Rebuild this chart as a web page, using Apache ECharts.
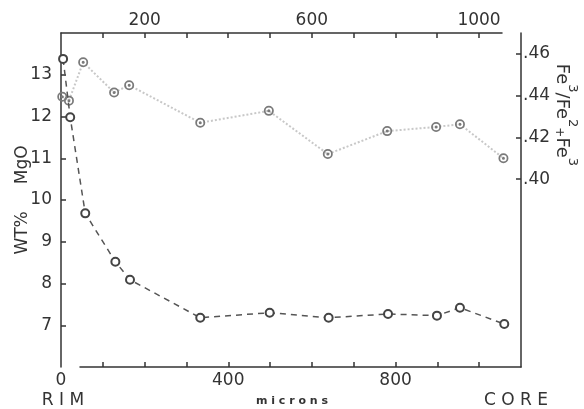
<!DOCTYPE html>
<html>
<head>
<meta charset="utf-8">
<script src="https://cdn.jsdelivr.net/npm/echarts@6/dist/echarts.min.js"></script>
<style>
  html, body { margin: 0; padding: 0; background: #fff; }
  #chart { width: 584px; height: 409px; }
</style>
</head>
<body>
<div id="chart"></div>
<script>
// MgO (wt%) profile, left axis
const mgoMicrons = [5, 22, 58, 130, 165, 333, 499, 640, 782, 899, 954, 1060]
const mgoValues = [13.38, 11.98, 9.68, 8.52, 8.09, 7.18, 7.30, 7.18, 7.27, 7.23, 7.42, 7.03]

// Fe3/(Fe2+Fe3) profile, right axis
const feMicrons = [3, 19, 53, 127, 163, 333, 497, 638, 780, 897, 954, 1058]
const feValues = [0.4395, 0.4376, 0.456, 0.4415, 0.445, 0.427, 0.4327, 0.412, 0.423, 0.425, 0.4263, 0.410]

const bottomTicks = [100, 200, 300, 400, 500, 600, 700, 800, 900, 1000]
const bottomLabels = [0, 400, 800]
const topLabels = [200, 600, 1000]
const mgoTicks = [7, 8, 9, 10, 11, 12, 13]
const feTicks = [0.40, 0.42, 0.44, 0.46]

const font = 'DejaVu Sans'
const ink = '#333'

const container = document.getElementById('chart')
const myChart = echarts.init(container)

// ring with a dot in the middle
const ringDot = 'path://M0,-10A10,10 0 1,1 0,10A10,10 0 1,1 0,-10Z' +
    'M0,-6.5A6.5,6.5 0 1,0 0,6.5A6.5,6.5 0 1,0 0,-6.5Z' +
    'M0,-3A3,3 0 1,1 0,3A3,3 0 1,1 0,-3Z'

const tickLabel = { color: ink, fontFamily: font, fontSize: 17, formatter: v => String(v) }
const axisInk = { color: ink, width: 1.5 }

const option = {
    backgroundColor: '#fff',
    animation: false,
    grid: [
        { left: 61, right: 63, top: 33, bottom: 42, outerBoundsMode: 'none', containLabel: false },   // plot
        { left: 61, width: 441, top: 33, height: 10, outerBoundsMode: 'none', containLabel: false },  // shorter top axis
        { left: 80, right: 63, bottom: 42, height: 10, outerBoundsMode: 'none', containLabel: false } // bottom axis line
    ],
    xAxis: [{
        type: 'value',
        gridIndex: 0,
        position: 'bottom',
        min: 0,
        max: 1100,
        splitLine: { show: false },
        axisLine: { show: false, onZero: false },
        axisTick: { show: true, inside: true, length: 5, customValues: bottomTicks, lineStyle: axisInk },
        axisLabel: Object.assign({}, tickLabel, { margin: 5, customValues: bottomLabels })
    }, {
        type: 'value',
        gridIndex: 1,
        position: 'top',
        min: 0,
        max: 1055,
        splitLine: { show: false },
        axisLine: { show: true, onZero: false, lineStyle: axisInk },
        axisTick: { show: true, inside: true, length: 5, customValues: bottomTicks, lineStyle: axisInk },
        axisLabel: Object.assign({}, tickLabel, { margin: 4, customValues: topLabels })
    }, {
        type: 'value',
        gridIndex: 2,
        position: 'bottom',
        min: 0,
        max: 1,
        splitLine: { show: false },
        axisLine: { show: true, onZero: false, lineStyle: axisInk },
        axisTick: { show: false },
        axisLabel: { show: false }
    }],
    yAxis: [{
        type: 'value',
        gridIndex: 0,
        position: 'left',
        min: 6,
        max: 14,
        name: 'WT%     MgO',
        nameLocation: 'middle',
        nameRotate: 90,
        nameGap: 30,
        nameMoveOverlap: false,
        nameTextStyle: { color: ink, fontFamily: font, fontSize: 17 },
        splitLine: { show: false },
        axisLine: { show: true, onZero: false, lineStyle: axisInk },
        axisTick: { show: true, inside: true, length: 5, customValues: mgoTicks, lineStyle: axisInk },
        axisLabel: Object.assign({}, tickLabel, { margin: 9, customValues: mgoTicks })
    }, {
        type: 'value',
        gridIndex: 0,
        position: 'right',
        min: 0.31,
        max: 0.47,
        splitLine: { show: false },
        axisLine: { show: true, onZero: false, lineStyle: axisInk },
        axisTick: { show: true, inside: true, length: 5, customValues: feTicks, lineStyle: axisInk },
        axisLabel: Object.assign({}, tickLabel, {
            margin: 2,
            customValues: feTicks,
            formatter: v => v.toFixed(2).replace(/^0/, '')
        })
    }, {
        type: 'value', gridIndex: 1, show: false, min: 0, max: 1
    }, {
        type: 'value', gridIndex: 2, show: false, min: 0, max: 1
    }],
    series: [{
        name: 'MgO',
        type: 'line',
        xAxisIndex: 0,
        yAxisIndex: 0,
        data: mgoMicrons.map((m, i) => [m, mgoValues[i]]),
        symbol: 'emptyCircle',
        symbolSize: 8,
        itemStyle: { color: '#444', borderWidth: 1.6 },
        lineStyle: { color: '#555', width: 1.5, type: [6, 5] },
        z: 3
    }, {
        name: 'Fe3/Fe2+Fe3',
        type: 'line',
        xAxisIndex: 0,
        yAxisIndex: 1,
        data: feMicrons.map((m, i) => [m, feValues[i]]),
        symbol: ringDot,
        symbolSize: 10,
        itemStyle: { color: '#7a7a7a' },
        lineStyle: { color: '#c8c8c8', width: 2, type: 'dotted' },
        z: 2
    }],
    graphic: [{
        type: 'text', x: 63, y: 401,
        style: { text: 'R I M', fontFamily: font, fontSize: 17, fill: ink, align: 'center', verticalAlign: 'middle' }
    }, {
        type: 'text', x: 292, y: 401,
        style: { text: 'm i c r o n s', fontFamily: font, fontSize: 11, fontWeight: 'bold', fill: ink, align: 'center', verticalAlign: 'middle' }
    }, {
        type: 'text', x: 516, y: 401,
        style: { text: 'C O R E', fontFamily: font, fontSize: 17, fill: ink, align: 'center', verticalAlign: 'middle' }
    }, {
        type: 'text', x: 566, y: 115, rotation: -Math.PI / 2,
        style: {
            text: '{b|Fe}{s|3}{b|/Fe}{s|2}{p|+}{b|Fe}{s|3}',
            fill: ink, align: 'center', verticalAlign: 'middle',
            rich: {
                b: { fontFamily: font, fontSize: 18, lineHeight: 26, verticalAlign: 'bottom', fill: ink },
                s: { fontFamily: font, fontSize: 13, lineHeight: 26, verticalAlign: 'top', fill: ink },
                p: { fontFamily: font, fontSize: 12, lineHeight: 22, verticalAlign: 'bottom', fill: ink }
            }
        }
    }]
}

myChart.setOption(option)
</script>
</body>
</html>
